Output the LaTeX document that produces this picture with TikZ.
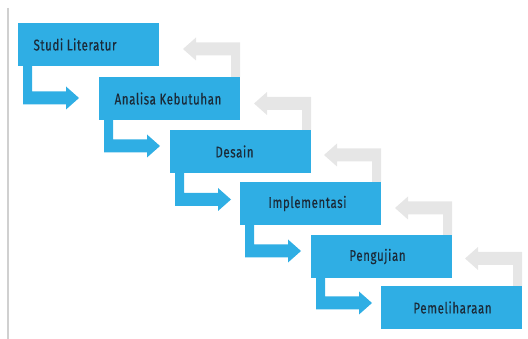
\documentclass[tikz,border=0pt]{standalone}
\usepackage{fontspec}
\setmainfont{Fira Sans}[FakeStretch=0.74,LetterSpace=4,FakeBold=0.4]
\usetikzlibrary{calc}
\definecolor{stepblue}{HTML}{2FAEE4}
\definecolor{backgray}{HTML}{E6E6E6}
\definecolor{txtdark}{HTML}{1B2A38}
\definecolor{rulegray}{HTML}{D0D0D0}
\begin{document}
\begin{tikzpicture}[x=1pt,y=-1pt,
  box/.style={fill=stepblue,draw=none,minimum width=141pt,minimum height=43pt,inner sep=0pt,outer sep=0pt,anchor=north west},
  lbl/.style={text=txtdark,font=\fontsize{15.5}{17}\selectfont,inner sep=0pt},
  fwd/.style={fill=stepblue,draw=none},
  back/.style={fill=backgray,draw=none}]
\useasboundingbox (0,0) rectangle (528,339);
\draw[rulegray,line width=1.2pt] (8,8) -- (8,339);
% boxes
\node[box] (b1) at (18,23) {};
\node[box] (b2) at (99,77) {};
\node[box] (b3) at (170,130) {};
\node[box] (b4) at (240,182) {};
\node[box] (b5) at (311,235) {};
\node[box] (b6) at (381,286) {};
% labels
\node[lbl] at ($(b1.center)+(-13.5,0)$) {Studi Literatur};
\node[lbl] at ($(b2.center)+(-1.5,0)$) {Analisa Kebutuhan};
\node[lbl] at ($(b3.center)+(-6,0)$) {Desain};
\node[lbl] at ($(b4.center)+(-3,0)$) {Implementasi};
\node[lbl] at ($(b5.center)+(-4,0)$) {Pengujian};
\node[lbl] at ($(b6.center)+(1,0)$) {Pemeliharaan};
% forward (blue) arrows
\foreach \a/\dy in {b1/32,b2/26,b3/26.5,b4/26,b5/25}{
  \fill[fwd] ($(\a.south west)+(5,0)$) -- ++(9,0) -- ++(0,\dy-6.5) -- ++(34,0)
     -- ++(0,-5) -- ++(13,11.5) -- ++(-13,11.5) -- ++(0,-5) -- ++(-43,0) -- cycle;
}
% backward (gray) arrows
\foreach \a/\dy in {b2/28,b3/26.5,b4/27,b5/27,b6/27.5}{
  \fill[back] (\a.north east) -- ++(0,-\dy-6.5) -- ++(-44,0)
     -- ++(0,-5) -- ++(-13,11.5) -- ++(13,11.5) -- ++(0,-5) -- ++(35,0) -- ++(0,\dy-6.5) -- cycle;
}
\end{tikzpicture}
\end{document}
